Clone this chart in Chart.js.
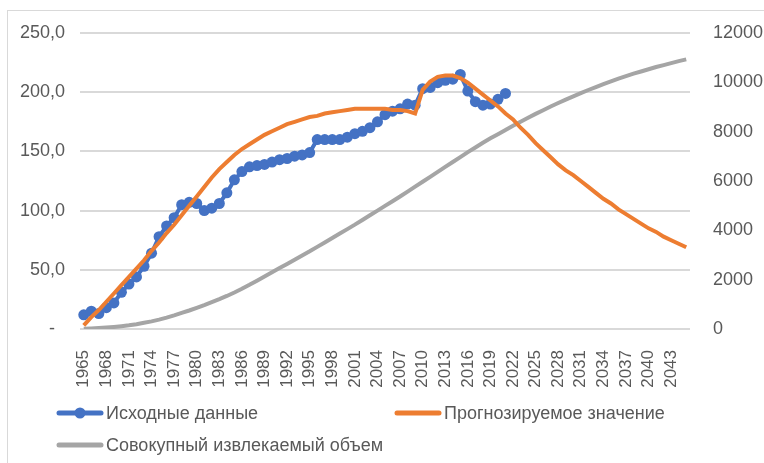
<!DOCTYPE html>
<html>
<head>
<meta charset="utf-8">
<script src="https://cdn.jsdelivr.net/npm/chart.js@4.4.0/dist/chart.umd.min.js"></script>
<style>
  html, body { margin: 0; padding: 0; background: #fff; overflow: hidden; }
  .frame { position: absolute; left: 7px; top: 10px; width: 800px; height: 500px; border: 1px solid #d9d9d9; }
  .wrap  { position: absolute; left: 0; top: 0; width: 764px; height: 463px; }
</style>
</head>
<body>
<div class="frame"></div>
<div class="wrap"><canvas id="chart" width="764" height="463"></canvas></div>
<script>
/* ── Data ── */
const years = [
  1965, 1966, 1967, 1968, 1969, 1970, 1971, 1972, 1973, 1974,
  1975, 1976, 1977, 1978, 1979, 1980, 1981, 1982, 1983, 1984,
  1985, 1986, 1987, 1988, 1989, 1990, 1991, 1992, 1993, 1994,
  1995, 1996, 1997, 1998, 1999, 2000, 2001, 2002, 2003, 2004,
  2005, 2006, 2007, 2008, 2009, 2010, 2011, 2012, 2013, 2014,
  2015, 2016, 2017, 2018, 2019, 2020, 2021, 2022, 2023, 2024,
  2025, 2026, 2027, 2028, 2029, 2030, 2031, 2032, 2033, 2034,
  2035, 2036, 2037, 2038, 2039, 2040, 2041, 2042, 2043, 2044,
  2045,
];

// historical production, 1965–2021
const source = [
  12, 15, 13, 18, 22, 31, 38, 44, 53, 64,
  78, 87, 94, 105, 107, 106, 100, 102, 106, 115,
  126, 133, 137, 138, 139, 141, 143, 144, 146, 147,
  149, 160, 160, 160, 160, 162, 165, 167, 170, 175,
  181, 184, 186, 190, 189, 203, 204, 208, 210, 211,
  215, 201, 192, 189, 190, 194, 199,
];

// model curve, 1965–2045
const forecast = [
  3, 10, 16, 23, 30, 37, 44, 51, 58, 66,
  73, 81, 88, 96, 104, 112, 120, 128, 135, 141,
  147, 152, 156, 160, 164, 167, 170, 173, 175, 177,
  179, 180, 182, 183, 184, 185, 186, 186, 186, 186,
  186, 185, 185, 184, 182, 202, 209, 213, 214, 214,
  212, 208, 203, 198, 193, 188, 182, 177, 170, 164,
  157, 151, 145, 139, 134, 130, 125, 120, 115, 110,
  106, 101, 97, 93, 89, 85, 82, 78, 75, 72,
  69,
];

// cumulative recoverable volume (right axis)
const cumulative = [
  10, 25, 40, 60, 85, 115, 150, 195, 250, 310,
  380, 460, 550, 650, 750, 860, 970, 1090, 1210, 1340,
  1480, 1630, 1790, 1960, 2130, 2300, 2470, 2640, 2810, 2980,
  3150, 3330, 3510, 3690, 3870, 4050, 4230, 4420, 4610, 4800,
  4990, 5180, 5370, 5570, 5770, 5970, 6170, 6370, 6570, 6770,
  6970, 7170, 7360, 7550, 7730, 7900, 8070, 8240, 8400, 8560,
  8720, 8870, 9020, 9160, 9300, 9430, 9560, 9690, 9810, 9930,
  10040, 10150, 10250, 10350, 10440, 10530, 10620, 10700, 10780, 10860,
  10930,
];

const seriesNames = ['Исходные данные', 'Прогнозируемое значение', 'Совокупный извлекаемый объем'];

/* ── Style ── */
const TEXT = '#595959';
const GRID = '#d9d9d9';
const FONT = "'Liberation Sans', Arial, sans-serif";

// legend entries: two on the first row, one below
const legendSlots = [
  { x: 57,  y: 413 },
  { x: 395, y: 413 },
  { x: 57,  y: 445 },
];

const sheetLegend = {
  id: 'sheetLegend',
  afterDraw(chart) {
    const ctx = chart.ctx;
    chart.data.datasets.forEach((ds, i) => {
      const s = legendSlots[i];
      ctx.save();
      ctx.strokeStyle = ds.borderColor;
      ctx.lineWidth = 5;
      ctx.lineCap = 'round';
      ctx.beginPath();
      ctx.moveTo(s.x + 2, s.y);
      ctx.lineTo(s.x + 44, s.y);
      ctx.stroke();
      if (ds.pointRadius) {
        ctx.fillStyle = ds.pointBackgroundColor;
        ctx.beginPath();
        ctx.arc(s.x + 23, s.y, 5.5, 0, Math.PI * 2);
        ctx.fill();
      }
      ctx.fillStyle = TEXT;
      ctx.font = `18px ${FONT}`;
      ctx.textBaseline = 'middle';
      ctx.fillText(ds.label, s.x + 49, s.y + 1);
      ctx.restore();
    });
  },
};

new Chart(document.getElementById('chart'), {
  type: 'line',
  data: {
    labels: years,
    datasets: [
      {
        label: seriesNames[0], data: source, yAxisID: 'y',
        borderColor: '#4472C4', borderWidth: 4,
        pointRadius: 5.5, pointHoverRadius: 5.5, pointBorderWidth: 0,
        pointBackgroundColor: '#4472C4',
        order: 2,
      },
      {
        label: seriesNames[1], data: forecast, yAxisID: 'y',
        borderColor: '#ED7D31', borderWidth: 4, pointRadius: 0,
        order: 1,
      },
      {
        label: seriesNames[2], data: cumulative, yAxisID: 'y2',
        borderColor: '#A5A5A5', borderWidth: 4, pointRadius: 0,
        order: 3,
      },
    ],
  },
  options: {
    responsive: false,
    animation: false,
    layout: { padding: { top: 33, left: 0, right: 0, bottom: 0 } },
    plugins: { legend: { display: false }, tooltip: { enabled: false } },
    scales: {
      x: {
        offset: true,
        grid: { display: false },
        border: { display: false },
        ticks: {
          autoSkip: false, maxRotation: 90, minRotation: 90, padding: 13,
          color: TEXT, font: { family: FONT, size: 17 },
          callback: (v, i) => (i % 3 === 0 ? years[i] : ''),
        },
        afterFit(s) { s.height = 134; },
      },
      y: {
        position: 'left', min: 0, max: 250,
        grid: { color: GRID, lineWidth: 2, drawTicks: false },
        border: { display: false },
        ticks: {
          stepSize: 50, padding: 15, color: TEXT, font: { family: FONT, size: 18 },
          callback: v => (v === 0 ? '-  ' : v.toFixed(1).replace('.', ',')),
        },
        afterFit(s) { s.width = 80; },
      },
      y2: {
        position: 'right', min: 0, max: 12000,
        grid: { display: false },
        border: { display: false },
        ticks: {
          stepSize: 2000, padding: 15, color: TEXT, font: { family: FONT, size: 18 },
          callback: v => String(v),
        },
        afterFit(s) { s.width = 74; },
      },
    },
  },
  plugins: [sheetLegend],
});
</script>
</body>
</html>
